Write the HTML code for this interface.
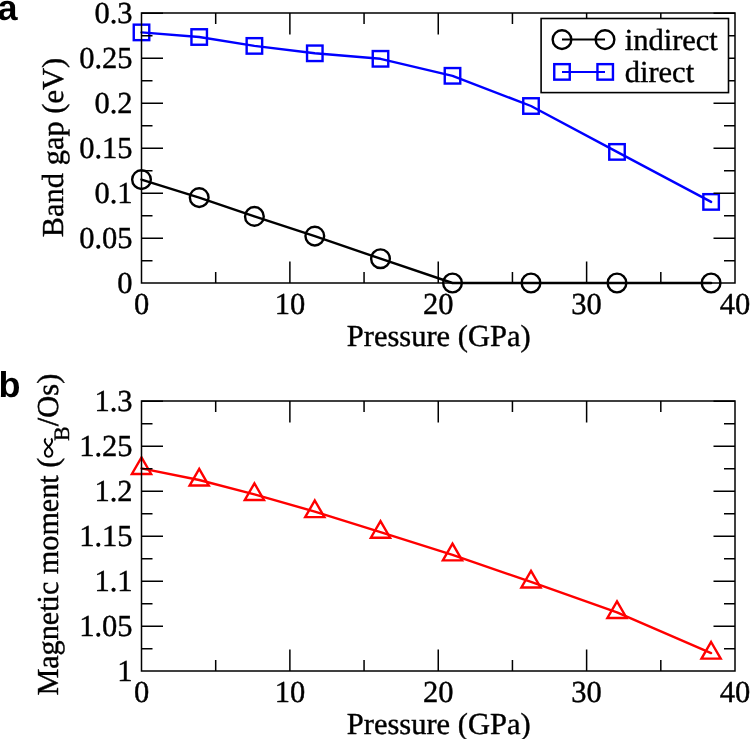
<!DOCTYPE html>
<html><head><meta charset="utf-8"><style>
html,body{margin:0;padding:0;background:#fff;overflow:hidden;}
svg{display:block;will-change:transform;}
text{font-family:"Liberation Serif",serif;fill:#000;stroke:#000;stroke-width:0.4px;text-rendering:geometricPrecision;}
text.pl{font-family:"Liberation Sans",sans-serif;font-weight:bold;font-size:36px;stroke:none;}
</style></head><body>
<svg width="750" height="739" viewBox="0 0 750 739">
<path d="M141.5 179.6 L199.2 197.6 L254.4 216.4 L314.8 236.1 L380.5 258.7 L452.5 283 L531 283 L617 283 L711.1 283" stroke="#000" stroke-width="2.4" fill="none" stroke-linejoin="round" stroke-linecap="round"/>
<path d="M141.5 32.4 L199.2 37 L254.4 45.9 L314.8 53.3 L380.5 58.8 L452.5 75.8 L531 106 L617 151.9 L711.1 201.9" stroke="#00f" stroke-width="2.4" fill="none" stroke-linejoin="round" stroke-linecap="round"/>
<circle cx="141.5" cy="179.6" r="9.35" stroke="#000" stroke-width="2.4" fill="none"/>
<circle cx="199.2" cy="197.6" r="9.35" stroke="#000" stroke-width="2.4" fill="none"/>
<circle cx="254.4" cy="216.4" r="9.35" stroke="#000" stroke-width="2.4" fill="none"/>
<circle cx="314.8" cy="236.1" r="9.35" stroke="#000" stroke-width="2.4" fill="none"/>
<circle cx="380.5" cy="258.7" r="9.35" stroke="#000" stroke-width="2.4" fill="none"/>
<circle cx="452.5" cy="283" r="9.35" stroke="#000" stroke-width="2.4" fill="none"/>
<circle cx="531" cy="283" r="9.35" stroke="#000" stroke-width="2.4" fill="none"/>
<circle cx="617" cy="283" r="9.35" stroke="#000" stroke-width="2.4" fill="none"/>
<circle cx="711.1" cy="283" r="9.35" stroke="#000" stroke-width="2.4" fill="none"/>
<rect x="133.75" y="24.65" width="15.5" height="15.5" stroke="#00f" stroke-width="2.4" fill="none"/>
<rect x="191.45" y="29.25" width="15.5" height="15.5" stroke="#00f" stroke-width="2.4" fill="none"/>
<rect x="246.65" y="38.15" width="15.5" height="15.5" stroke="#00f" stroke-width="2.4" fill="none"/>
<rect x="307.05" y="45.55" width="15.5" height="15.5" stroke="#00f" stroke-width="2.4" fill="none"/>
<rect x="372.75" y="51.05" width="15.5" height="15.5" stroke="#00f" stroke-width="2.4" fill="none"/>
<rect x="444.75" y="68.05" width="15.5" height="15.5" stroke="#00f" stroke-width="2.4" fill="none"/>
<rect x="523.25" y="98.25" width="15.5" height="15.5" stroke="#00f" stroke-width="2.4" fill="none"/>
<rect x="609.25" y="144.15" width="15.5" height="15.5" stroke="#00f" stroke-width="2.4" fill="none"/>
<rect x="703.35" y="194.15" width="15.5" height="15.5" stroke="#00f" stroke-width="2.4" fill="none"/>
<path d="M215.69 283V272M215.69 13V24M289.88 283V261.5M289.88 13V34.5M364.06 283V272M364.06 13V24M438.25 283V261.5M438.25 13V34.5M512.44 283V272M512.44 13V24M586.62 283V261.5M586.62 13V34.5M660.81 283V272M660.81 13V24M141.5 260.8H152.5M735 260.8H724M141.5 238.3H163M735 238.3H713.5M141.5 215.8H152.5M735 215.8H724M141.5 193.3H163M735 193.3H713.5M141.5 170.8H152.5M735 170.8H724M141.5 148.3H163M735 148.3H713.5M141.5 125.8H152.5M735 125.8H724M141.5 103.3H163M735 103.3H713.5M141.5 80.8H152.5M735 80.8H724M141.5 58.3H163M735 58.3H713.5M141.5 35.8H152.5M735 35.8H724M141.5 13.3H163M735 13.3H713.5" stroke="#000" stroke-width="1.5" fill="none"/>
<rect x="141.5" y="13" width="593.5" height="270" stroke="#000" stroke-width="1.5" fill="none"/>
<text x="132.5" y="293.3" text-anchor="end" font-size="30.5" >0</text>
<text x="132.5" y="248.3" text-anchor="end" font-size="30.5" >0.05</text>
<text x="132.5" y="203.3" text-anchor="end" font-size="30.5" >0.1</text>
<text x="132.5" y="158.3" text-anchor="end" font-size="30.5" >0.15</text>
<text x="132.5" y="113.3" text-anchor="end" font-size="30.5" >0.2</text>
<text x="132.5" y="68.3" text-anchor="end" font-size="30.5" >0.25</text>
<text x="132.5" y="23.3" text-anchor="end" font-size="30.5" >0.3</text>
<text x="141.5" y="314" text-anchor="middle" font-size="30.5" >0</text>
<text x="289.88" y="314" text-anchor="middle" font-size="30.5" >10</text>
<text x="438.25" y="314" text-anchor="middle" font-size="30.5" >20</text>
<text x="586.62" y="314" text-anchor="middle" font-size="30.5" >30</text>
<text x="735" y="314" text-anchor="middle" font-size="30.5" >40</text>
<text x="438.7" y="345.5" text-anchor="middle" font-size="30.5" >Pressure (GPa)</text>
<text transform="translate(62.9 147.6) rotate(-90)" text-anchor="middle" font-size="30.5">Band gap (eV)</text>
<rect x="541.1" y="18.5" width="187.4" height="74.1" stroke="#000" stroke-width="1.6" fill="#fff"/>
<path d="M562 39.6H605" stroke="#000" stroke-width="2" fill="none"/>
<circle cx="562" cy="39.6" r="9.35" stroke="#000" stroke-width="2.4" fill="none"/>
<circle cx="605" cy="39.6" r="9.35" stroke="#000" stroke-width="2.4" fill="none"/>
<path d="M562 71.9H605" stroke="#00f" stroke-width="2" fill="none"/>
<rect x="554.25" y="64.15" width="15.5" height="15.5" stroke="#00f" stroke-width="2.4" fill="none"/>
<rect x="597.45" y="64.15" width="15.5" height="15.5" stroke="#00f" stroke-width="2.4" fill="none"/>
<text x="624.7" y="50.1" text-anchor="start" font-size="30.5" >indirect</text>
<text x="624.7" y="81.6" text-anchor="start" font-size="30.5" >direct</text>
<path d="M141.5 468.4 L199.2 480 L254.4 494.4 L314.8 511.6 L380.5 532.2 L452.5 554.8 L531 581.9 L617 612.4 L711.1 653.1" stroke="#f00" stroke-width="2.4" fill="none" stroke-linejoin="round" stroke-linecap="round"/>
<path d="M141.5 457.3L151.11 473.95L131.89 473.95Z" stroke="#f00" stroke-width="2.4" fill="none" stroke-linejoin="miter"/>
<path d="M199.2 468.9L208.81 485.55L189.59 485.55Z" stroke="#f00" stroke-width="2.4" fill="none" stroke-linejoin="miter"/>
<path d="M254.4 483.3L264.01 499.95L244.79 499.95Z" stroke="#f00" stroke-width="2.4" fill="none" stroke-linejoin="miter"/>
<path d="M314.8 500.5L324.41 517.15L305.19 517.15Z" stroke="#f00" stroke-width="2.4" fill="none" stroke-linejoin="miter"/>
<path d="M380.5 521.1L390.11 537.75L370.89 537.75Z" stroke="#f00" stroke-width="2.4" fill="none" stroke-linejoin="miter"/>
<path d="M452.5 543.7L462.11 560.35L442.89 560.35Z" stroke="#f00" stroke-width="2.4" fill="none" stroke-linejoin="miter"/>
<path d="M531 570.8L540.61 587.45L521.39 587.45Z" stroke="#f00" stroke-width="2.4" fill="none" stroke-linejoin="miter"/>
<path d="M617 601.3L626.61 617.95L607.39 617.95Z" stroke="#f00" stroke-width="2.4" fill="none" stroke-linejoin="miter"/>
<path d="M711.1 642L720.71 658.65L701.49 658.65Z" stroke="#f00" stroke-width="2.4" fill="none" stroke-linejoin="miter"/>
<path d="M215.69 671V660M215.69 401V412M289.88 671V649.5M289.88 401V422.5M364.06 671V660M364.06 401V412M438.25 671V649.5M438.25 401V422.5M512.44 671V660M512.44 401V412M586.62 671V649.5M586.62 401V422.5M660.81 671V660M660.81 401V412M141.5 648.8H152.5M735 648.8H724M141.5 626.3H163M735 626.3H713.5M141.5 603.8H152.5M735 603.8H724M141.5 581.3H163M735 581.3H713.5M141.5 558.8H152.5M735 558.8H724M141.5 536.3H163M735 536.3H713.5M141.5 513.8H152.5M735 513.8H724M141.5 491.3H163M735 491.3H713.5M141.5 468.8H152.5M735 468.8H724M141.5 446.3H163M735 446.3H713.5M141.5 423.8H152.5M735 423.8H724M141.5 401.3H163M735 401.3H713.5" stroke="#000" stroke-width="1.5" fill="none"/>
<rect x="141.5" y="401" width="593.5" height="270" stroke="#000" stroke-width="1.5" fill="none"/>
<text x="132.5" y="680.5" text-anchor="end" font-size="30.5" >1</text>
<text x="132.5" y="635.5" text-anchor="end" font-size="30.5" >1.05</text>
<text x="132.5" y="590.5" text-anchor="end" font-size="30.5" >1.1</text>
<text x="132.5" y="545.5" text-anchor="end" font-size="30.5" >1.15</text>
<text x="132.5" y="500.5" text-anchor="end" font-size="30.5" >1.2</text>
<text x="132.5" y="455.5" text-anchor="end" font-size="30.5" >1.25</text>
<text x="132.5" y="410.5" text-anchor="end" font-size="30.5" >1.3</text>
<text x="141.5" y="702" text-anchor="middle" font-size="30.5" >0</text>
<text x="289.88" y="702" text-anchor="middle" font-size="30.5" >10</text>
<text x="438.25" y="702" text-anchor="middle" font-size="30.5" >20</text>
<text x="586.62" y="702" text-anchor="middle" font-size="30.5" >30</text>
<text x="735" y="702" text-anchor="middle" font-size="30.5" >40</text>
<text x="438.7" y="733.5" text-anchor="middle" font-size="30.5" >Pressure (GPa)</text>
<g transform="translate(57.7 694.7) rotate(-90)">
<text x="-0.9" y="0" font-size="30.5" textLength="237.9" lengthAdjust="spacingAndGlyphs">Magnetic moment (</text>
<path d="M256.2 -11.9 Q255.3 -13.1 253.7 -13.0 C251.5 -12.9 249.8 -10.9 248 -9.1 C246.2 -7.3 244.8 -5.3 242.6 -5.3 C239.7 -5.3 237.9 -7 237.9 -9.1 C237.9 -11.2 239.7 -12.9 242.6 -12.9 C244.8 -12.9 246.2 -10.9 248 -9.1 C249.8 -7.3 251.5 -5.5 253.7 -5.6 Q255.3 -5.7 256.2 -6.6" stroke="#000" stroke-width="1.9" fill="none"/>
<text x="253.8" y="11.7" font-size="22">B</text>
<text x="268.5" y="0" font-size="30.5">/Os)</text>
</g>
<text x="-2.5" y="19.7" class="pl">a</text>
<text x="-1.6" y="396.9" class="pl">b</text>
</svg>
</body></html>
